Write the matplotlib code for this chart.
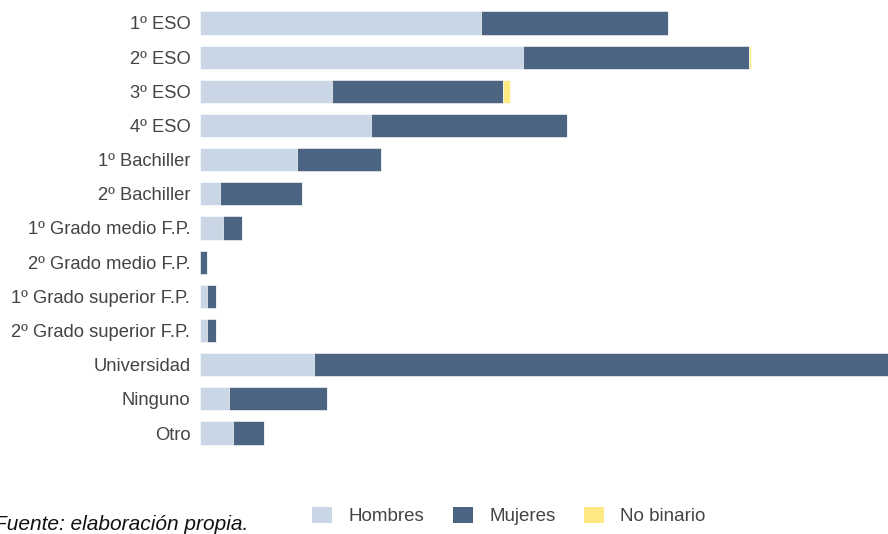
import matplotlib
matplotlib.use("Agg")
import matplotlib.pyplot as plt
from matplotlib.patches import Patch
import numpy as np

categories = ["1º ESO", "2º ESO", "3º ESO", "4º ESO", "1º Bachiller", "2º Bachiller",
              "1º Grado medio F.P.", "2º Grado medio F.P.", "1º Grado superior F.P.",
              "2º Grado superior F.P.", "Universidad", "Ninguno", "Otro"]
hombres = [40.1, 46.1, 18.9, 24.4, 13.9, 2.9, 3.3, 0.0, 1.0, 1.0, 16.3, 4.1, 4.7]
mujeres = [26.7, 32.3, 24.4, 28.0, 12.0, 11.7, 2.7, 1.0, 1.3, 1.3, 90.0, 14.1, 4.4]
no_binario = [0.0, 0.3, 1.0, 0.0, 0.0, 0.0, 0.0, 0.0, 0.0, 0.0, 0.0, 0.0, 0.0]
series_names = ["Hombres", "Mujeres", "No binario"]
colors = ["#c9d6e6", "#4b6481", "#fee982"]

plt.rcParams['font.family'] = ['Liberation Sans', 'DejaVu Sans']

fig = plt.figure(figsize=(8.88, 5.34), dpi=100)
ax = fig.add_axes([200/888, 1 - 450.1/534, 688/888, 444.2/534])

y = np.arange(len(categories))
h = np.array(hombres); m = np.array(mujeres); nb = np.array(no_binario)
ax.barh(y, h, height=0.68, color=colors[0], edgecolor="white", linewidth=0.4)
ax.barh(y, m, left=h, height=0.68, color=colors[1], edgecolor="white", linewidth=0.4)
ax.barh(y, nb, left=h + m, height=0.68, color=colors[2], edgecolor="white", linewidth=0.4)

ax.set_ylim(12.5, -0.5)
ax.set_xlim(0, 688/7)
ax.set_yticks(y)
ax.set_yticklabels(categories, fontsize=13.2, color="#444444")
ax.tick_params(axis="y", length=0, pad=7)
ax.set_xticks([])
for s in ax.spines.values():
    s.set_visible(False)

handles = [Patch(facecolor=c, edgecolor="none") for c in colors]
fig.legend(handles, series_names, loc="center", bbox_to_anchor=(509/888, 1 - 516/534),
           ncol=3, frameon=False, fontsize=13.5, handlelength=1.07, handleheight=1.0,
           columnspacing=1.55, handletextpad=0.85, labelcolor="#444444")

fig.text(-6/888, 1 - 530/534, "Fuente: elaboración propia.", fontsize=15, style="italic",
         color="#111111", ha="left", va="baseline")

fig.savefig("out.png", dpi=100)
